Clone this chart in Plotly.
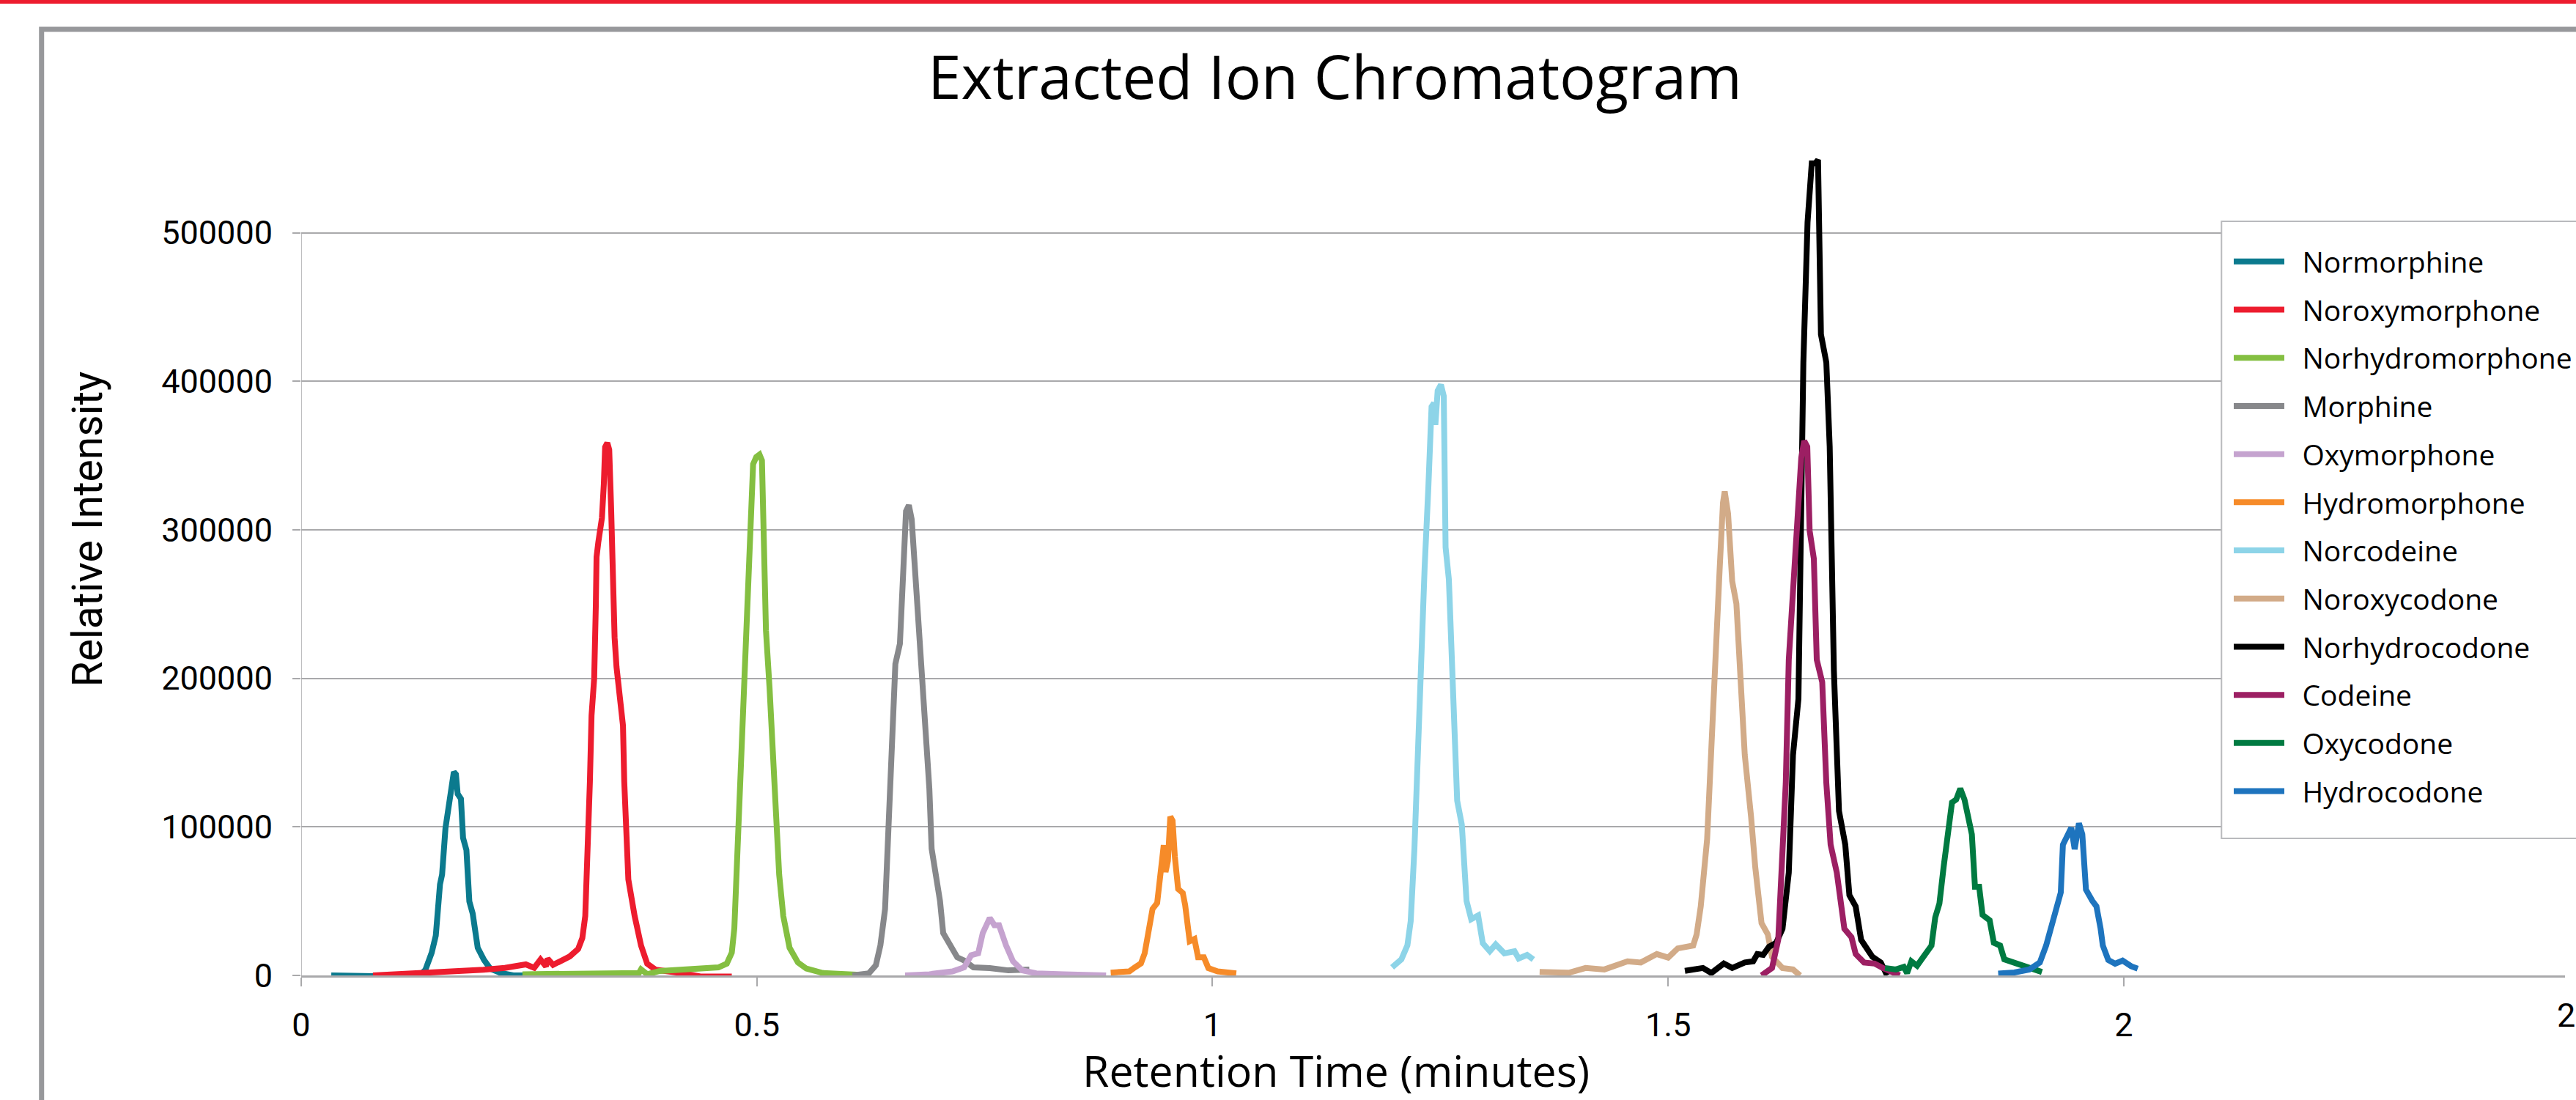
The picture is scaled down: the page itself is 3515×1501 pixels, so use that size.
import plotly.graph_objects as go

# ---------------- data ----------------
compounds = ["Normorphine", "Noroxymorphone", "Norhydromorphone", "Morphine",
             "Oxymorphone", "Hydromorphone", "Norcodeine", "Noroxycodone",
             "Norhydrocodone", "Codeine", "Oxycodone", "Hydrocodone"]

normorphine_t = [0.033, 0.08, 0.13, 0.1363, 0.1432, 0.1477, 0.1523, 0.1546, 0.1583, 0.1615, 0.1647,
                 0.1675, 0.1698, 0.1717, 0.1753, 0.1776, 0.1813, 0.1845, 0.1882, 0.1937, 0.2006,
                 0.2074, 0.219, 0.2327, 0.251]
normorphine_i = [0, -500, 0, 3800, 15300, 26800, 61300, 67900, 99100, 112300, 123800,
                 137000, 135400, 122200, 118900, 92600, 84400, 49800, 41600, 18600, 10400,
                 4600, 1600, 0, 0]

noroxymorphone_t = [0.0788, 0.10, 0.12, 0.1409, 0.16, 0.1868, 0.2, 0.2235, 0.235, 0.2465, 0.2557,
                    0.2626, 0.2686, 0.2704, 0.2764, 0.2855, 0.2947, 0.3039, 0.3085, 0.3117, 0.3145,
                    0.3168, 0.3186, 0.3215, 0.3233, 0.3241, 0.326, 0.33, 0.3321, 0.3335, 0.3359,
                    0.338, 0.3401, 0.342, 0.3439, 0.346, 0.3492, 0.3531, 0.3545, 0.359, 0.3659,
                    0.3729, 0.3797, 0.389, 0.4165, 0.4394, 0.4725]
noroxymorphone_i = [0, 600, 1000, 1600, 2400, 3000, 3800, 5100, 6000, 7400, 5100,
                    10700, 6100, 11300, 7100, 10400, 12800, 17800, 25200, 40000, 81000,
                    130400, 175000, 200000, 248800, 281700, 291500, 308000, 331000, 355700, 358600,
                    354000, 314600, 265300, 227400, 207700, 192900, 168200, 130400, 64600, 40000,
                    20200, 7900, 3800, 1600, -800, -800]

norhydromorphone_t = [0.2428, 0.2787, 0.3246, 0.3706, 0.3729, 0.3797, 0.3935, 0.4165, 0.4395, 0.4578,
                      0.467, 0.4725, 0.4753, 0.4785, 0.4817, 0.486, 0.4887, 0.4914, 0.4941, 0.4959,
                      0.4994, 0.5029, 0.5056, 0.5074, 0.51, 0.514, 0.5198, 0.5245, 0.529, 0.5359,
                      0.5451, 0.5543, 0.5726, 0.6002, 0.6255]
norhydromorphone_i = [800, 1200, 1600, 1600, 4100, 800, 3000, 3600, 4100, 5400,
                      7900, 15300, 31700, 81000, 146900, 192900, 248800, 298100, 331000, 344200,
                      349100, 350700, 346700, 298100, 232300, 192900, 130400, 67900, 40000, 18600,
                      8700, 4600, 1600, 800, 0]

morphine_t = [0.605, 0.6229, 0.6306, 0.6356, 0.6407, 0.6448, 0.6484, 0.652, 0.657, 0.6596, 0.6637,
              0.6668, 0.6699, 0.674, 0.679, 0.6852, 0.6893, 0.6918, 0.6969, 0.701, 0.7045, 0.7122,
              0.7199, 0.7275, 0.7377, 0.7556, 0.776, 0.799]
morphine_i = [0, 1400, 6800, 20300, 44700, 98800, 166400, 209700, 223300, 261200, 312600,
              316600, 307100, 269200, 225900, 171900, 125800, 85300, 66300, 50100, 28500, 20300,
              12200, 10000, 5400, 4900, 3400, 4000]

oxymorphone_t = [0.6627, 0.6893, 0.7147, 0.7275, 0.7352, 0.7429, 0.7479, 0.7556, 0.7607, 0.7658,
                 0.7734, 0.7811, 0.7913, 0.8066, 0.8372, 0.8627, 0.8832]
oxymorphone_i = [0, 800, 2700, 5400, 13600, 14900, 28500, 38700, 33800, 33800,
                 20300, 9500, 3400, 1400, 800, 0, 0]

hydromorphone_t = [0.8883, 0.9087, 0.9148, 0.9215, 0.9256, 0.9291, 0.9342, 0.9393, 0.9419, 0.9445,
                   0.9465, 0.9485, 0.9511, 0.9537, 0.9562, 0.9587, 0.9623, 0.9674, 0.97, 0.975,
                   0.9802, 0.9842, 0.9905, 0.9955, 1.0057, 1.0261]
hydromorphone_i = [1900, 2700, 5400, 8100, 14900, 27100, 44700, 48700, 63600, 85300,
                   87700, 69600, 77200, 106900, 104200, 79900, 58200, 55500, 47400, 23000,
                   24500, 12200, 12200, 4900, 2700, 1400]

norcodeine_t = [1.1971, 1.2073, 1.2139, 1.2175, 1.2216, 1.2251, 1.2292, 1.2328, 1.2369, 1.2404,
                1.2431, 1.2446, 1.2471, 1.2507, 1.2538, 1.2558, 1.2594, 1.2635, 1.2685, 1.2736,
                1.2788, 1.2839, 1.2915, 1.2966, 1.3043, 1.3108, 1.3203, 1.3314, 1.336, 1.3452, 1.3521]
norcodeine_i = [5400, 10800, 20300, 36500, 85300, 152900, 207000, 274700, 328800, 382900,
                385400, 370700, 393700, 397700, 390000, 288200, 266500, 201600, 117700, 101500,
                50100, 37900, 40400, 21700, 16300, 20900, 14900, 16300, 11400, 13800, 10700]

noroxycodone_t = [1.359, 1.3911, 1.4095, 1.43, 1.4555, 1.47, 1.4876, 1.50, 1.5106, 1.5275,
                  1.5313, 1.5358, 1.5428, 1.5474, 1.552, 1.5565, 1.5602, 1.5621, 1.5658, 1.5703,
                  1.5749, 1.5786, 1.5841, 1.591, 1.5956, 1.6025, 1.6094, 1.614, 1.6255, 1.637, 1.6448]
noroxycodone_i = [2300, 1800, 5000, 4000, 9500, 8700, 14400, 12000, 18200, 20100,
                  27600, 46500, 91800, 159800, 224000, 273000, 318300, 325900, 310800, 265500,
                  250300, 205100, 148400, 106900, 72900, 35200, 27600, 12500, 5000, 4000, 0]

norhydrocodone_t = [1.5184, 1.5382, 1.5474, 1.5611, 1.5703, 1.5841, 1.5933, 1.5979, 1.6043, 1.6107,
                    1.6186, 1.6255, 1.6324, 1.637, 1.643, 1.6448, 1.6484, 1.653, 1.6576, 1.6613,
                    1.6645, 1.6677, 1.6736, 1.6773, 1.6819, 1.6875, 1.6944, 1.6989, 1.7058, 1.7118,
                    1.7242, 1.7334, 1.7403]
norhydrocodone_i = [3100, 5000, 1600, 8000, 5000, 8700, 9500, 14400, 13800, 19300,
                    22000, 31400, 69200, 148400, 186200, 280600, 412700, 507100, 546700, 546700,
                    549100, 431600, 412700, 356100, 205100, 110700, 88000, 54000, 46500, 23900,
                    12500, 8700, 0]

codeine_t = [1.6025, 1.614, 1.6208, 1.6245, 1.6291, 1.6324, 1.637, 1.6416, 1.6461, 1.6493,
             1.6527, 1.6553, 1.6599, 1.6631, 1.6691, 1.6736, 1.6783, 1.6851, 1.6897, 1.6934,
             1.7012, 1.7058, 1.715, 1.7265, 1.7357, 1.7541]
codeine_i = [0, 5000, 23900, 69200, 129500, 212600, 261700, 310800, 348500, 359900,
             356000, 299400, 280600, 212600, 197500, 129500, 88000, 69200, 46500, 31400,
             25700, 14400, 8700, 8000, 5000, 0]

oxycodone_t = [1.738, 1.75, 1.7586, 1.7622, 1.7669, 1.7732, 1.7801, 1.789, 1.7931, 1.7977,
               1.8023, 1.8069, 1.8115, 1.8161, 1.8206, 1.8252, 1.8298, 1.8333, 1.8367, 1.8413,
               1.845, 1.8528, 1.8574, 1.8643, 1.8689, 1.8835, 1.8964, 1.9102]
oxycodone_i = [5000, 4000, 5700, 1600, 9500, 6500, 12500, 20100, 39000, 48400,
               72900, 91800, 116400, 118400, 125800, 118400, 103200, 95000, 59700, 59700,
               40800, 37100, 22000, 20100, 10800, 8000, 5000, 2300]

hydrocodone_t = [1.8622, 1.88, 1.8964, 1.9079, 1.9148, 1.924, 1.9309, 1.9332, 1.9401, 1.9424,
                 1.9461, 1.9508, 1.9545, 1.9585, 1.9654, 1.97, 1.9746, 1.977, 1.983, 1.9905,
                 1.9987, 2.008, 2.0153]
hydrocodone_i = [1300, 2000, 4000, 8700, 20100, 42700, 55900, 88000, 95600, 99400,
                 85000, 102400, 95000, 57800, 50300, 46500, 31400, 20200, 10400, 7900,
                 10000, 6200, 4600]

x_ticks = [0, 0.5, 1, 1.5, 2]
x_tick_labels = ["0", "0.5", "1", "1.5", "2"]
y_ticks = [0, 100000, 200000, 300000, 400000, 500000]
y_tick_labels = ["0", "100000", "200000", "300000", "400000", "500000"]

colors = ["#0B7A8E", "#ED1C2E", "#84BF41", "#87888B", "#C5A3CF", "#F68B29",
          "#8DD4E8", "#D2AB88", "#000000", "#9C1F63", "#007A41", "#1E74BE"]

series = [
    (normorphine_t, normorphine_i), (noroxymorphone_t, noroxymorphone_i),
    (norhydromorphone_t, norhydromorphone_i), (morphine_t, morphine_i),
    (oxymorphone_t, oxymorphone_i), (hydromorphone_t, hydromorphone_i),
    (norcodeine_t, norcodeine_i), (noroxycodone_t, noroxycodone_i),
    (norhydrocodone_t, norhydrocodone_i), (codeine_t, codeine_i),
    (oxycodone_t, oxycodone_i), (hydrocodone_t, hydrocodone_i),
]

# ---------------- layout geometry ----------------
W, H = 3515, 1501
L, R, T, B = 411, 0, 115, 170
PW, PH = W - L - R, H - T - B


def px_x(X):
    return (X - L) / PW


def px_y(Y):
    return (H - B - Y) / PH


x_max = (W - L) / 1249.5

fig = go.Figure()
for name, (t, inten), col in zip(compounds, series, colors):
    fig.add_trace(go.Scatter(x=t, y=inten, mode="lines", name="\u2002" + name, legendgroup=name,
                             line=dict(color=col, width=8)))

grid_col = "#A9A9AB"
fig.update_layout(
    width=W, height=H,
    margin=dict(l=L, r=R, t=T, b=B, pad=0),
    paper_bgcolor="white", plot_bgcolor="white",
    hovermode=False,
    showlegend=True,
    legend=dict(x=px_x(3056), y=px_y(325), xanchor="left", yanchor="top",
                bgcolor="rgba(0,0,0,0)", borderwidth=0,
                font=dict(family="Open Sans", size=39, color="black"),
                tracegroupgap=12, itemwidth=69),
    xaxis=dict(range=[0, x_max], tickvals=x_ticks, ticktext=x_tick_labels,
               showgrid=False, zeroline=False, showline=True, linecolor=grid_col, linewidth=3,
               ticks="outside", ticklen=12, tickwidth=2, tickcolor=grid_col,
               ticklabelstandoff=14,
               tickfont=dict(family="Roboto", size=45, color="black")),
    yaxis=dict(range=[0, 600000], tickvals=y_ticks, ticktext=y_tick_labels,
               showgrid=True, gridcolor=grid_col, gridwidth=2, zeroline=False, showline=False,
               ticks="outside", ticklen=11, tickwidth=2, tickcolor=grid_col,
               ticklabelstandoff=18,
               tickfont=dict(family="Roboto", size=45, color="black")),
)

# y axis line (only up to the top gridline)
fig.add_shape(type="line", xref="x", yref="y", x0=0, x1=0, y0=0, y1=500000,
              line=dict(color="#BDBDBF", width=2), layer="below")
# legend box (cropped at the right edge like the reference)
fig.add_shape(type="rect", xref="paper", yref="paper",
              x0=px_x(3044), x1=px_x(3700), y0=px_y(302), y1=px_y(1144),
              line=dict(color="#B9BABD", width=2), fillcolor="white", layer="above")
# outer chart frame (cropped at right / bottom)
fig.add_shape(type="rect", xref="paper", yref="paper",
              x0=px_x(55), x1=px_x(3700), y0=px_y(40), y1=px_y(1700),
              line=dict(color="#97989B", width=7))
# red band at the very top
fig.add_shape(type="rect", xref="paper", yref="paper",
              x0=px_x(-10), x1=px_x(3600), y0=px_y(5), y1=px_y(-10),
              line=dict(width=0), fillcolor="#ED1C2E")

fig.add_annotation(text="Extracted Ion Chromatogram", xref="paper", yref="paper",
                   x=px_x(1828), y=px_y(103), xanchor="center", yanchor="middle", showarrow=False,
                   font=dict(family="Open Sans", size=82, color="black"))
fig.add_annotation(text="Retention Time (minutes)", xref="paper", yref="paper",
                   x=px_x(1830), y=px_y(1460), xanchor="center", yanchor="middle", showarrow=False,
                   font=dict(family="Open Sans", size=59, color="black"))
fig.add_annotation(text="Relative Intensity", xref="paper", yref="paper", textangle=-90,
                   x=px_x(118), y=px_y(722), xanchor="center", yanchor="middle", showarrow=False,
                   font=dict(family="Roboto", size=57, color="black"))
# partially visible tick label of the cropped 2.5 tick
fig.add_annotation(text="2.5", xref="paper", yref="paper",
                   x=px_x(L + 2.5 * 1249.5), y=px_y(1357), xanchor="center", yanchor="top",
                   showarrow=False, font=dict(family="Roboto", size=45, color="black"))

fig.write_html("out.html", config={"displayModeBar": False},
               post_script="document.body.style.margin='0';document.body.style.overflow='hidden';")
